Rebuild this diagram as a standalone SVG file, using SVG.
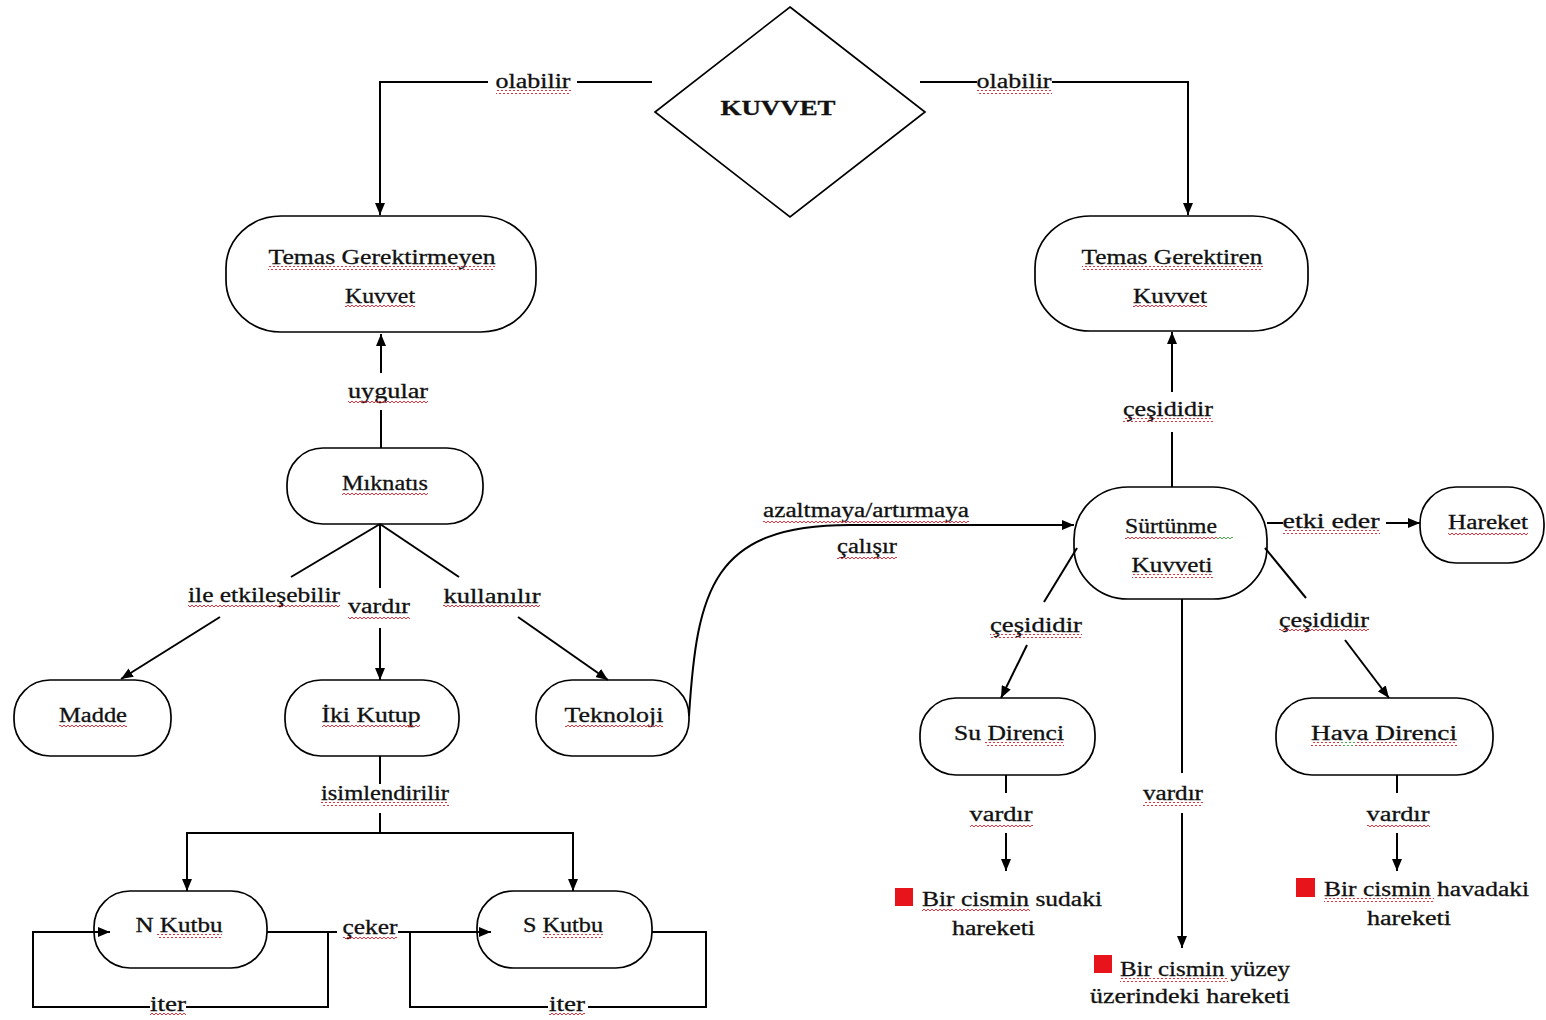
<svg xmlns="http://www.w3.org/2000/svg" width="1546" height="1020" viewBox="0 0 1546 1020">
  <style>
    .node { fill: #fff; stroke: #000; stroke-width: 1.7; }
    .edge { fill: none; stroke: #000; stroke-width: 2; }
    .arrow { marker-end: url(#head); }
    text { font-family: "Liberation Serif", "Times New Roman", serif; font-size: 20px; fill: #111; stroke: #111; stroke-width: 0.3; }
    .c { text-anchor: middle; }
    .b { font-weight: bold; }
    .sq { fill: url(#wavy-red); }
    .gq { fill: url(#wavy-green); }
    .bullet { fill: #e8141b; }
  </style>
  <defs>
    <marker id="head" viewBox="0 0 12 10" refX="12" refY="5" markerWidth="12" markerHeight="10" markerUnits="userSpaceOnUse" orient="auto">
      <path d="M0,0 L12,5 L0,10 z" fill="#000"/>
    </marker>
    <pattern id="wavy-red" width="4" height="4" patternUnits="userSpaceOnUse">
      <path d="M0,1 L2,3 L4,1" fill="none" stroke="#d8202a" stroke-width="0.9"/>
    </pattern>
    <pattern id="wavy-green" width="4" height="4" patternUnits="userSpaceOnUse">
      <path d="M0,1 L2,3 L4,1" fill="none" stroke="#3aa53a" stroke-width="0.9"/>
    </pattern>
  </defs>

  <rect x="0" y="0" width="1546" height="1020" fill="#fff"/>

  <!-- nodes -->
  <g id="kuvvet">
    <polygon class="node" points="790,7 925,112 790,217 655,112"/>
    <text class="c b" x="778" y="115" textLength="115" lengthAdjust="spacingAndGlyphs">KUVVET</text>
  </g>
  <g id="temas-gerektirmeyen">
    <rect class="node" x="226" y="216" width="310" height="116" rx="55" ry="52"/>
    <text class="c" x="382" y="264" textLength="227" lengthAdjust="spacingAndGlyphs">Temas Gerektirmeyen</text>
    <text class="c" x="380" y="303" textLength="70" lengthAdjust="spacingAndGlyphs">Kuvvet</text>
  </g>
  <g id="temas-gerektiren">
    <rect class="node" x="1035" y="216" width="273" height="115" rx="55" ry="52"/>
    <text class="c" x="1172" y="264" textLength="181" lengthAdjust="spacingAndGlyphs">Temas Gerektiren</text>
    <text class="c" x="1170" y="303" textLength="74" lengthAdjust="spacingAndGlyphs">Kuvvet</text>
  </g>
  <g id="miknatis">
    <rect class="node" x="287" y="448" width="196" height="76" rx="36"/>
    <text class="c" x="385" y="490" textLength="86" lengthAdjust="spacingAndGlyphs">Mıknatıs</text>
  </g>
  <g id="madde">
    <rect class="node" x="14" y="680" width="157" height="76" rx="36"/>
    <text class="c" x="93" y="722" textLength="68" lengthAdjust="spacingAndGlyphs">Madde</text>
  </g>
  <g id="iki-kutup">
    <rect class="node" x="285" y="680" width="174" height="76" rx="36"/>
    <text class="c" x="371" y="722" textLength="99" lengthAdjust="spacingAndGlyphs">İki Kutup</text>
  </g>
  <g id="teknoloji">
    <rect class="node" x="536" y="680" width="153" height="76" rx="36"/>
    <text class="c" x="614" y="722" textLength="99" lengthAdjust="spacingAndGlyphs">Teknoloji</text>
  </g>
  <g id="n-kutbu">
    <rect class="node" x="94" y="891" width="173" height="77" rx="36"/>
    <text class="c" x="179" y="932" textLength="87" lengthAdjust="spacingAndGlyphs">N Kutbu</text>
  </g>
  <g id="s-kutbu">
    <rect class="node" x="477" y="891" width="175" height="77" rx="36"/>
    <text class="c" x="563" y="932" textLength="80" lengthAdjust="spacingAndGlyphs">S Kutbu</text>
  </g>
  <g id="surtunme">
    <rect class="node" x="1074" y="487" width="193" height="112" rx="54" ry="52"/>
    <text class="c" x="1171" y="533" textLength="92" lengthAdjust="spacingAndGlyphs">Sürtünme</text>
    <text class="c" x="1172" y="572" textLength="81" lengthAdjust="spacingAndGlyphs">Kuvveti</text>
  </g>
  <g id="hareket">
    <rect class="node" x="1420" y="487" width="124" height="76" rx="36"/>
    <text class="c" x="1488" y="529" textLength="80" lengthAdjust="spacingAndGlyphs">Hareket</text>
  </g>
  <g id="su-direnci">
    <rect class="node" x="920" y="698" width="175" height="77" rx="36"/>
    <text class="c" x="1009" y="740" textLength="110" lengthAdjust="spacingAndGlyphs">Su Direnci</text>
  </g>
  <g id="hava-direnci">
    <rect class="node" x="1276" y="698" width="217" height="77" rx="36"/>
    <text class="c" x="1384" y="740" textLength="146" lengthAdjust="spacingAndGlyphs">Hava Direnci</text>
  </g>

  <!-- end items with bullets -->
  <g id="sudaki-hareket">
    <rect class="bullet" x="895" y="888" width="18" height="18"/>
    <text x="922" y="906" textLength="180" lengthAdjust="spacingAndGlyphs">Bir cismin sudaki</text>
    <text x="952" y="935" textLength="83" lengthAdjust="spacingAndGlyphs">hareketi</text>
  </g>
  <g id="yuzey-hareket">
    <rect class="bullet" x="1094" y="955" width="18" height="18"/>
    <text x="1120" y="976" textLength="170" lengthAdjust="spacingAndGlyphs">Bir cismin yüzey</text>
    <text x="1090" y="1003" textLength="200" lengthAdjust="spacingAndGlyphs">üzerindeki hareketi</text>
  </g>
  <g id="havadaki-hareket">
    <rect class="bullet" x="1296" y="878" width="19" height="19"/>
    <text x="1324" y="896" textLength="205" lengthAdjust="spacingAndGlyphs">Bir cismin havadaki</text>
    <text x="1367" y="925" textLength="84" lengthAdjust="spacingAndGlyphs">hareketi</text>
  </g>

  <!-- connectors (drawn over the nodes so arrowheads that end inside a shape stay visible) -->
  <g id="connectors">
    <path class="edge" d="M652,82 H577"/>
    <path class="edge arrow" d="M488,82 H380 V215"/>
    <path class="edge" d="M920,82 H977"/>
    <path class="edge arrow" d="M1052,82 H1188 V215"/>

    <path class="edge" d="M381,448 V410"/>
    <path class="edge arrow" d="M381,373 V334"/>

    <path class="edge" d="M380,524 L291,577"/>
    <path class="edge arrow" d="M220,617 L121,679"/>
    <path class="edge" d="M380,524 V588"/>
    <path class="edge arrow" d="M380,628 V680"/>
    <path class="edge" d="M380,524 L459,577"/>
    <path class="edge arrow" d="M518,617 L608,680"/>

    <path class="edge" d="M380,756 V784"/>
    <path class="edge" d="M380,813 V833"/>
    <path class="edge arrow" d="M380,833 H187 V891"/>
    <path class="edge arrow" d="M380,833 H573 V891"/>

    <path class="edge" d="M267,932 H337"/>
    <path class="edge arrow" d="M398,932 H491"/>
    <path class="edge" d="M328,932 V1007 H186"/>
    <path class="edge arrow" d="M150,1007 H33 V932 H110"/>
    <path class="edge" d="M652,932 H706 V1007 H588"/>
    <path class="edge" d="M548,1007 H410 V932"/>

    <path class="edge arrow" d="M689,716 C697,590 712,525 850,525 H1074"/>

    <path class="edge" d="M1172,487 V432"/>
    <path class="edge arrow" d="M1172,392 V332"/>
    <path class="edge" d="M1267,523 H1283"/>
    <path class="edge arrow" d="M1386,523 H1420"/>
    <path class="edge" d="M1077,548 L1044,602"/>
    <path class="edge arrow" d="M1027,645 L1001,698"/>
    <path class="edge" d="M1265,548 L1306,598"/>
    <path class="edge arrow" d="M1345,640 L1389,698"/>
    <path class="edge" d="M1182,599 V773"/>
    <path class="edge arrow" d="M1182,813 V948"/>
    <path class="edge" d="M1006,775 V793"/>
    <path class="edge arrow" d="M1006,833 V871"/>
    <path class="edge" d="M1397,775 V793"/>
    <path class="edge arrow" d="M1397,833 V871"/>
  </g>

  <!-- connector labels -->
  <g id="labels">
    <text class="c" x="533" y="88" textLength="75" lengthAdjust="spacingAndGlyphs">olabilir</text>
    <text class="c" x="1014" y="88" textLength="75" lengthAdjust="spacingAndGlyphs">olabilir</text>
    <text class="c" x="388" y="398" textLength="80" lengthAdjust="spacingAndGlyphs">uygular</text>
    <text class="c" x="264" y="602" textLength="152" lengthAdjust="spacingAndGlyphs">ile etkileşebilir</text>
    <text class="c" x="379" y="613" textLength="62" lengthAdjust="spacingAndGlyphs">vardır</text>
    <text class="c" x="492" y="603" textLength="97" lengthAdjust="spacingAndGlyphs">kullanılır</text>
    <text class="c" x="385" y="800" textLength="128" lengthAdjust="spacingAndGlyphs">isimlendirilir</text>
    <text class="c" x="370" y="934" textLength="55" lengthAdjust="spacingAndGlyphs">çeker</text>
    <text class="c" x="168" y="1011" textLength="36" lengthAdjust="spacingAndGlyphs">iter</text>
    <text class="c" x="567" y="1011" textLength="36" lengthAdjust="spacingAndGlyphs">iter</text>
    <text class="c" x="866" y="517" textLength="206" lengthAdjust="spacingAndGlyphs">azaltmaya/artırmaya</text>
    <text class="c" x="867" y="553" textLength="60" lengthAdjust="spacingAndGlyphs">çalışır</text>
    <text class="c" x="1168" y="416" textLength="90" lengthAdjust="spacingAndGlyphs">çeşididir</text>
    <text class="c" x="1331" y="528" textLength="97" lengthAdjust="spacingAndGlyphs">etki eder</text>
    <text class="c" x="1036" y="632" textLength="92" lengthAdjust="spacingAndGlyphs">çeşididir</text>
    <text class="c" x="1324" y="627" textLength="90" lengthAdjust="spacingAndGlyphs">çeşididir</text>
    <text class="c" x="1001" y="821" textLength="63" lengthAdjust="spacingAndGlyphs">vardır</text>
    <text class="c" x="1173" y="800" textLength="60" lengthAdjust="spacingAndGlyphs">vardır</text>
    <text class="c" x="1398" y="821" textLength="63" lengthAdjust="spacingAndGlyphs">vardır</text>
  </g>

  <!-- proofing squiggles under words -->
  <g id="proofing-marks">
    <rect class="sq" x="496" y="90" width="75" height="4"/>
    <rect class="sq" x="977" y="90" width="75" height="4"/>
    <rect class="sq" x="268" y="266" width="227" height="4"/>
    <rect class="sq" x="345" y="305" width="70" height="4"/>
    <rect class="sq" x="1082" y="266" width="181" height="4"/>
    <rect class="sq" x="1133" y="305" width="74" height="4"/>
    <rect class="sq" x="348" y="401" width="80" height="4"/>
    <rect class="sq" x="342" y="492" width="86" height="4"/>
    <rect class="sq" x="188" y="604" width="152" height="4"/>
    <rect class="sq" x="348" y="615" width="62" height="4"/>
    <rect class="sq" x="443" y="605" width="97" height="4"/>
    <rect class="sq" x="59" y="724" width="68" height="4"/>
    <rect class="sq" x="322" y="724" width="98" height="4"/>
    <rect class="sq" x="565" y="724" width="98" height="4"/>
    <rect class="sq" x="321" y="802" width="128" height="4"/>
    <rect class="sq" x="157" y="934" width="65" height="4"/>
    <rect class="sq" x="543" y="934" width="60" height="4"/>
    <rect class="sq" x="343" y="936" width="54" height="4"/>
    <rect class="sq" x="150" y="1013" width="36" height="4"/>
    <rect class="sq" x="549" y="1013" width="36" height="4"/>
    <rect class="sq" x="763" y="519" width="206" height="4"/>
    <rect class="sq" x="837" y="555" width="60" height="4"/>
    <rect class="sq" x="1123" y="418" width="90" height="4"/>
    <rect class="sq" x="1125" y="535" width="92" height="4"/>
    <rect class="gq" x="1217" y="535" width="16" height="4"/>
    <rect class="sq" x="1132" y="574" width="81" height="4"/>
    <rect class="sq" x="1283" y="530" width="97" height="4"/>
    <rect class="sq" x="1448" y="531" width="80" height="4"/>
    <rect class="sq" x="990" y="634" width="92" height="4"/>
    <rect class="sq" x="1279" y="629" width="90" height="4"/>
    <rect class="sq" x="985" y="742" width="79" height="4"/>
    <rect class="sq" x="1311" y="742" width="30" height="4"/>
    <rect class="gq" x="1341" y="742" width="14" height="4"/>
    <rect class="sq" x="1355" y="742" width="102" height="4"/>
    <rect class="sq" x="970" y="823" width="63" height="4"/>
    <rect class="sq" x="1143" y="802" width="60" height="4"/>
    <rect class="sq" x="1367" y="823" width="63" height="4"/>
    <rect class="sq" x="922" y="908" width="108" height="4"/>
    <rect class="sq" x="1120" y="978" width="108" height="4"/>
    <rect class="sq" x="1324" y="898" width="110" height="4"/>
  </g>
</svg>
